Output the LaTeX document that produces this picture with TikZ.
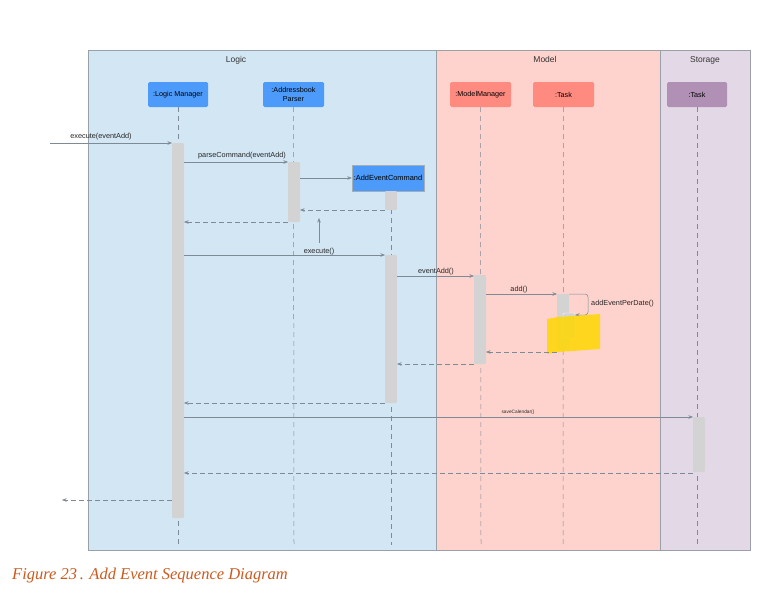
\documentclass[tikz,border=0pt]{standalone}
\usepackage{fontspec}
\setmainfont{Liberation Sans}
\newfontfamily\capfont{Liberation Serif}
\usetikzlibrary{arrows.meta}
\definecolor{logicbg}{HTML}{D3E6F4}
\definecolor{modelbg}{HTML}{FFD3CD}
\definecolor{storebg}{HTML}{E3D9E6}
\definecolor{bluebox}{HTML}{4C9BFB}
\definecolor{redbox}{HTML}{FF8A80}
\definecolor{purplebox}{HTML}{B190B6}
\definecolor{barcol}{HTML}{D3D3D4}
\definecolor{linecol}{HTML}{7E8A95}
\definecolor{capcol}{HTML}{CC5A1E}
\definecolor{yel}{HTML}{FFD700}
\tikzset{
  region/.style={draw=linecol!80, line width=0.5pt},
  actor/.style={rounded corners=1.5pt, inner sep=0pt, font=\fontsize{7.2}{8.5}\selectfont, align=center},
  life/.style={draw=linecol, dash pattern=on 5pt off 4pt, line width=0.5pt},
  bar/.style={fill=barcol, rounded corners=1.2pt},
  msg/.style={draw=linecol, line width=0.5pt, -{Stealth[length=4.5pt,width=3.5pt]}},
  ret/.style={draw=linecol, line width=0.5pt, dash pattern=on 5pt off 3pt, -{Stealth[length=4.5pt,width=3.5pt]}},
  lbl/.style={font=\fontsize{7.3}{8}\selectfont, text=black!85, inner sep=0pt, anchor=base},
  title/.style={font=\fontsize{8.5}{9}\selectfont, text=black!80, anchor=base, inner sep=0pt}
}
\begin{document}
\begin{tikzpicture}[x=1pt,y=-1pt]
\useasboundingbox (0,0) rectangle (771,597);
% regions
\fill[logicbg] (88,50) rectangle (436,550);
\fill[modelbg] (436,50) rectangle (660,550);
\fill[storebg] (660,50) rectangle (750,550);
\draw[region] (88,50) rectangle (750,550);
\draw[region] (436,50) -- (436,550);
\draw[region] (660,50) -- (660,550);
\node[title] (tlogic) at (236,62) {Logic};
\node[title] (tmodel) at (545,62) {Model};
\node[title] (tstore) at (705,62) {Storage};
% actors
\node[actor, fill=bluebox, minimum width=60pt, minimum height=25pt] (lm) at (178,94.5) {:Logic Manager};
\node[actor, fill=bluebox, minimum width=61pt, minimum height=25pt] (ap) at (293.5,94.5) {:Addressbook\\Parser};
\node[actor, fill=redbox, minimum width=61pt, minimum height=25pt] (mm) at (480.5,94.5) {:ModelManager};
\node[actor, fill=redbox, minimum width=61pt, minimum height=25pt] (tk) at (563.5,94.5) {:Task};
\node[actor, fill=purplebox, minimum width=60pt, minimum height=25pt] (st) at (697,94.5) {:Task};
% lifelines
\coordinate (lmE) at (178,545);
\coordinate (apE) at (294,545);
\coordinate (aeE) at (391,545);
\coordinate (mmE) at (481,545);
\coordinate (tkE) at (563,545);
\coordinate (stE) at (697,545);
\draw[life] (lm.south) -- (lmE);
\draw[life] (ap.south) -- (apE);
\draw[life] (391,191) -- (aeE);
\draw[life] (mm.south) -- (mmE);
\draw[life] (tk.south) -- (tkE);
\draw[life] (st.south) -- (stE);
% AddEventCommand box
\node[actor, rounded corners=0pt, fill=bluebox, draw=linecol!70, minimum width=72pt, minimum height=26pt, font=\fontsize{7.4}{8}\selectfont] (ae) at (388,178) {:AddEventCommand};
% activation bars
\path[bar] (172,143) rectangle (184,518);
\path[bar] (288,162) rectangle (300,222);
\path[bar] (385,191) rectangle (397,210);
\path[bar] (385,255) rectangle (397,403);
\path[bar] (474,275) rectangle (486,364);
\path[bar] (557,294) rectangle (569,350);
\path[bar, draw=white, line width=0.3pt] (563,313) rectangle (575,338);
\path[bar] (693,417) rectangle (705,472);
% named anchors for messages
\coordinate (src0) at (50,143);
\coordinate (lmA) at (172,143);
\coordinate (lmB) at (184,162);
\coordinate (apA) at (288,162);
\coordinate (apB) at (300,178);
\coordinate (aeA) at (385,210);
\coordinate (apC) at (300,210);
\coordinate (apD) at (288,222);
\coordinate (lmC) at (184,222);
\coordinate (vA) at (319,243);
\coordinate (vB) at (319,218);
\coordinate (lmD) at (184,255);
\coordinate (aeB) at (385,255);
\coordinate (aeC) at (397,276);
\coordinate (mmA) at (474,276);
\coordinate (mmB) at (486,294);
\coordinate (tkA) at (557,294);
\coordinate (tkB) at (569,294);
\coordinate (tkC) at (575,315);
\coordinate (tkD) at (557,352);
\coordinate (mmC) at (486,352);
\coordinate (mmD) at (474,364);
\coordinate (aeD) at (397,364);
\coordinate (aeF) at (385,403);
\coordinate (lmF) at (184,403);
\coordinate (lmG) at (184,417);
\coordinate (stA) at (693,417);
\coordinate (stB) at (693,473);
\coordinate (lmH) at (184,473);
\coordinate (lmI) at (172,500);
\coordinate (out) at (62,500);
% messages
\draw[msg] (src0) -- (lmA);
\node[lbl] (l1) at (101,138) {execute(eventAdd)};
\draw[msg] (lmB) -- (apA);
\node[lbl] (l2) at (242,157.5) {parseCommand(eventAdd)};
\draw[msg] (apB) -- (ae.west);
\draw[ret] (aeA) -- (apC);
\draw[ret] (apD) -- (lmC);
\draw[msg] (vA) -- (vB);
\draw[msg] (lmD) -- (aeB);
\node[lbl] (l3) at (319,253.5) {execute()};
\draw[msg] (aeC) -- (mmA);
\node[lbl] (l4) at (436,273) {eventAdd()};
\draw[msg] (mmB) -- (tkA);
\node[lbl] (l5) at (519,291.5) {add()};
\draw[msg, rounded corners=3pt] (tkB) -- (588,294) -- (588,315) -- (tkC);
\node[lbl, anchor=base west] (sl) at (591,305) {addEventPerDate()};
% yellow highlight
\fill[yel, opacity=0.85] (547,319) -- (558,317) -- (600,314) -- (600,349) -- (558,352) -- (547,354) -- cycle;
\draw[ret] (tkD) -- (mmC);
\draw[ret] (mmD) -- (aeD);
\draw[ret] (aeF) -- (lmF);
\draw[msg] (lmG) -- (stA);
\node[lbl, font=\fontsize{4.8}{5}\selectfont] (l6) at (518,413) {saveCalendar()};
\draw[ret] (stB) -- (lmH);
\draw[ret] (lmI) -- (out);
% caption
\node[anchor=base west, text=capcol, font=\capfont\itshape\fontsize{16.5}{18}\selectfont, inner sep=0pt] (cap) at (12,579) {Figure 23\,. Add Event Sequence Diagram};
\end{tikzpicture}
\end{document}
